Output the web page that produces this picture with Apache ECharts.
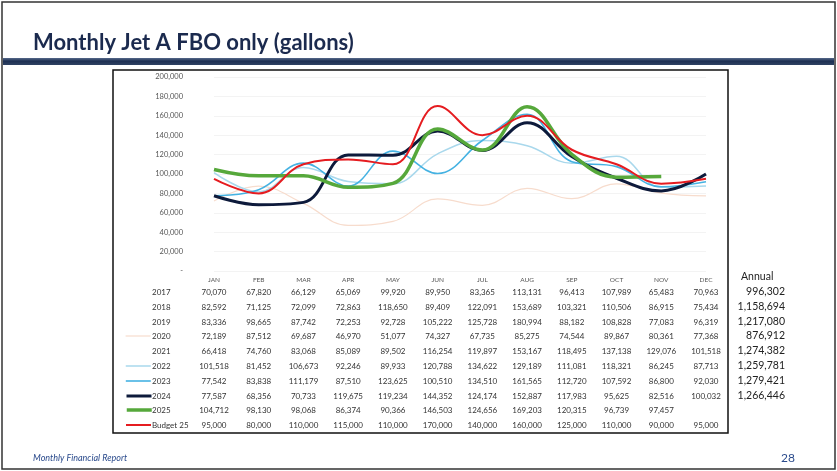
<!DOCTYPE html>
<html><head><meta charset="utf-8">
<script src="https://cdn.jsdelivr.net/npm/echarts@6/dist/echarts.min.js"></script>
<style>html,body{margin:0;padding:0;background:#fff}#c{width:837px;height:471px}</style>
</head><body><div id="c"></div>
<script>
const months = ['JAN','FEB','MAR','APR','MAY','JUN','JUL','AUG','SEP','OCT','NOV','DEC'];
const rowLabels = ['2017','2018','2019','2020','2021','2022','2023','2024','2025','Budget 25'];
const y2017 = [70070,67820,66129,65069,99920,89950,83365,113131,96413,107989,65483,70963];
const y2018 = [82592,71125,72099,72863,118650,89409,122091,153689,103321,110506,86915,75434];
const y2019 = [83336,98665,87742,72253,92728,105222,125728,180994,88182,108828,77083,96319];
const y2020 = [72189,87512,69687,46970,51077,74327,67735,85275,74544,89867,80361,77368];
const y2021 = [66418,74760,83068,85089,89502,116254,119897,153167,118495,137138,129076,101518];
const y2022 = [101518,81452,106673,92246,89933,120788,134622,129189,111081,118321,86245,87713];
const y2023 = [77542,83838,111179,87510,123625,100510,134510,161565,112720,107592,86800,92030];
const y2024 = [77587,68356,70733,119675,119234,144352,124174,152887,117983,95625,82516,100032];
const y2025 = [104712,98130,98068,86374,90366,146503,124656,169203,120315,96739,97457,null];
const budget25 = [95000,80000,110000,115000,110000,170000,140000,160000,125000,110000,90000,95000];
const annual = [996302,1158694,1217080,876912,1274382,1259781,1279421,1266446,null,null];
const yTicks = {min:0, max:200000, interval:20000};

const allRows = [y2017,y2018,y2019,y2020,y2021,y2022,y2023,y2024,y2025,budget25];
const plotted = [
  {idx:3, color:'#f7dccd', w:1.2},
  {idx:5, color:'#a9d8ec', w:1.5},
  {idx:6, color:'#45b2e2', w:1.6},
  {idx:7, color:'#0d1a3b', w:3},
  {idx:8, color:'#56a83b', w:3.5},
  {idx:9, color:'#e51c20', w:2}
];
const fmt = v => v == null ? '' : v.toLocaleString('en-US');
const FONT = 'Lato, "Open Sans", sans-serif';
const rowY0 = 292, rowStep = 14.8;
const rowY = r => Math.round(rowY0 + r*rowStep);

const chart = echarts.init(document.getElementById('c'));
chart.setOption({
  animation:false,
  grid:{left:214, right:131, top:77, bottom:200, containLabel:false},
  legend: plotted.map(p => ({
    data:[rowLabels[p.idx]], left:125, top:rowY(p.idx) - 3, itemWidth:25, itemHeight:6,
    selectedMode:false, padding:0, itemGap:0, formatter:() => '',
    textStyle:{fontSize:1, color:'rgba(0,0,0,0)'},
    itemStyle:{opacity:0},
    lineStyle:{width:p.w, color:p.color}
  })),
  xAxis:{type:'category', data:months, boundaryGap:false,
    axisLine:{show:false}, axisTick:{show:false}, splitLine:{show:false},
    axisLabel:{fontSize:6.5, color:'#555', margin:5, fontFamily:FONT}},
  yAxis:{type:'value', min:yTicks.min, max:yTicks.max, interval:yTicks.interval,
    axisLine:{show:false}, axisTick:{show:false},
    splitLine:{lineStyle:{color:'#f3f3f3', width:1}},
    axisLabel:{fontSize:7.5, color:'#555', margin:31, fontFamily:FONT,
      formatter: v => v === 0 ? '-' : v.toLocaleString('en-US')}},
  series: plotted.map((p,k) => ({
    name: rowLabels[p.idx], type:'line', data: allRows[p.idx], smooth:0.4,
    symbol:'none', z: 2+k, connectNulls:false,
    lineStyle:{color:p.color, width:p.w}, itemStyle:{color:p.color}
  }))
});

function build(){
  const g = [];
  g.push({type:'rect', shape:{x:2,y:2,width:833,height:467}, style:{fill:'none', stroke:'#333', lineWidth:1.5}, z:0});
  g.push({type:'rect', shape:{x:3,y:58,width:831,height:7},
    style:{fill:new echarts.graphic.LinearGradient(0,0,0,1,[{offset:0,color:'#56698a'},{offset:0.45,color:'#1d2f52'},{offset:1,color:'#2f4263'}])}, z:0});
  g.push({type:'text', x:33, y:43, style:{text:'Monthly Jet A FBO only (gallons)', font:'bold 22px '+FONT, fill:'#1b2a4e', verticalAlign:'middle'}});
  g.push({type:'rect', shape:{x:113,y:70,width:615,height:363}, style:{fill:'none', stroke:'#111', lineWidth:1.5}, z:0});
  g.push({type:'text', x:33, y:458, style:{text:'Monthly Financial Report', font:'italic 9px '+FONT, fill:'#2b4b8c', verticalAlign:'middle'}});
  g.push({type:'text', x:795, y:458, style:{text:'28', font:'12px '+FONT, fill:'#2b4b8c', verticalAlign:'middle', align:'right'}});
  const xs = months.map((m,i) => chart.convertToPixel({xAxisIndex:0}, i));
  allRows.forEach((row, r) => {
    const y = rowY(r);
    g.push({type:'text', x:152, y:y, z:10, style:{text:rowLabels[r], font:'8px '+FONT, fill:'#333', align:'left', verticalAlign:'middle'}});
    for (let i = 0; i < row.length; i++) {
      if (row[i] == null) continue;
      g.push({type:'text', x:xs[i], y:y, z:10, style:{text:fmt(row[i]), font:'8px '+FONT, fill:'#333', align:'center', verticalAlign:'middle'}});
    }
    if (annual[r] != null) g.push({type:'text', x:785, y:y, z:10, style:{text:fmt(annual[r]), font:'10.5px '+FONT, fill:'#222', align:'right', verticalAlign:'middle'}});
  });
  g.push({type:'text', x:741, y:277, style:{text:'Annual', font:'10.5px '+FONT, fill:'#222', verticalAlign:'middle'}});
  g.forEach((el,k) => { el.id = 'e' + k; });
  chart.setOption({graphic:{elements:g}});
}
build();
</script></body></html>
